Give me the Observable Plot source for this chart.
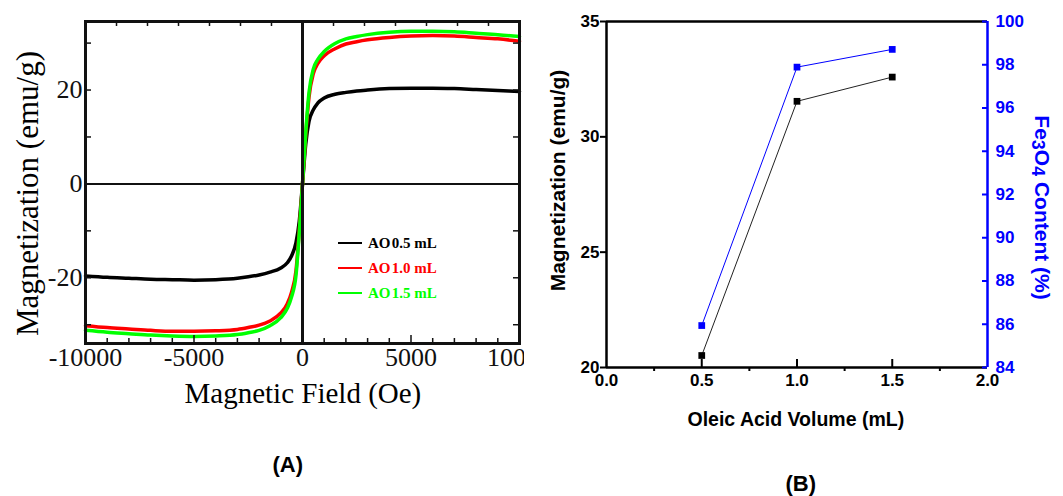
<!DOCTYPE html>
<html><head><meta charset="utf-8">
<script src="https://cdn.jsdelivr.net/npm/d3@7"></script>
<script src="https://cdn.jsdelivr.net/npm/@observablehq/plot@0.6"></script>
<style>
html,body{margin:0;padding:0;background:#fff;}
#fig{position:relative;width:1063px;height:496px;overflow:hidden;background:#fff;}
.layer{position:absolute;top:0;overflow:hidden;}
.lbl{position:absolute;white-space:nowrap;line-height:1;transform-origin:center center;}
.serif{font-family:"Liberation Serif","Times New Roman",serif;}
.sans{font-family:"Liberation Sans",Arial,sans-serif;font-weight:bold;}
.leg{position:absolute;display:flex;align-items:center;font-family:"Liberation Serif","Times New Roman",serif;font-weight:bold;font-size:15px;line-height:1;}
.leg span.sw{display:inline-block;width:24px;height:2px;margin-right:6px;}
</style></head>
<body><div id="fig"></div>
<script>
// ---------- Panel A data: M-H curves ----------
const fieldOe = [-10000,-9000,-8000,-7000,-6000,-5000,-4000,-3000,-2500,-2000,-1500,-1000,-700,-500,-300,-150,0,150,300,500,700,1000,1500,2000,2500,3000,4000,5000,6000,7000,8000,9000,10000];
const magAO05 = [-19.6,-19.9,-20.1,-20.3,-20.4,-20.5,-20.4,-20.1,-19.8,-19.4,-18.8,-17.9,-16.8,-15.3,-12.5,-8.0,0,8.5,13.3,15.8,17.2,18.3,19.1,19.5,19.8,20.0,20.3,20.4,20.4,20.3,20.1,19.9,19.7];
const magAO10 = [-30.2,-30.6,-30.9,-31.2,-31.4,-31.4,-31.3,-31.0,-30.6,-30.1,-29.2,-27.5,-25.5,-23.0,-18.5,-10.0,0,10.5,18.5,23.5,25.6,27.3,28.8,29.8,30.3,30.7,31.2,31.5,31.6,31.5,31.2,30.9,30.4];
const magAO15 = [-31.2,-31.6,-31.9,-32.2,-32.4,-32.5,-32.4,-32.1,-31.7,-31.2,-30.2,-28.5,-26.5,-24.0,-19.5,-10.5,0,11.0,19.5,24.5,26.5,28.2,29.9,30.9,31.4,31.8,32.3,32.5,32.5,32.4,32.1,31.8,31.4];
const seriesA = ["AO 0.5 mL","AO 1.0 mL","AO 1.5 mL"];
const colorsA = ["#000000","#ff0000","#00ff00"];
const xTickLabelsA = [-10000,-5000,0,5000,10000];
const xMinorTicksA = [-9000,-8000,-7000,-6000,-4000,-3000,-2000,-1000,1000,2000,3000,4000,6000,7000,8000,9000];
const xTopTicksA = [-8571,-7143,-5714,-4286,-2857,-1429,0,1429,2857,4286,5714,7143,8571];
const yTickLabelsA = [-20,0,20];
const yTicksA = [-30,-20,-10,0,10,20,30];

// ---------- Panel B data ----------
const oleicVolume = [0.5,1.0,1.5];
const magnetizationB = [20.52,31.54,32.59];
const fe3o4Content = [85.94,97.89,98.71];
const xTicksB = [0,0.5,1.0,1.5,2.0];
const xMinorTicksB = [0.25,0.75,1.25,1.75];
const yLeftTicksB = [20,25,30,35];
const yRightTicksB = [84,86,88,90,92,94,96,98,100];

const fig = document.getElementById("fig");

// ---------- Panel A ----------
const rowsA = [];
[magAO05, magAO10, magAO15].forEach((arr, i) => arr.forEach((m, j) => rowsA.push({series: seriesA[i], H: fieldOe[j], M: m})));
const WA = 524, HA = 400, mTA = 21, mBA = 57, mLA = 85, mRA = 5;
const fHA = HA - mTA - mBA, fWA = WA - mLA - mRA;
const serifFont = "Liberation Serif, Times New Roman, serif";
const plotA = Plot.plot({
  width: WA, height: HA, marginTop: mTA, marginBottom: mBA, marginLeft: mLA, marginRight: mRA,
  x: {domain: [-10000, 10000]},
  y: {domain: [-34.0, 34.6]},
  color: {domain: seriesA, range: colorsA},
  style: {fontFamily: serifFont, background: "transparent", color: "#111"},
  marks: [
    Plot.ruleY([0], {stroke: "#111", strokeWidth: 2}),
    Plot.line(rowsA, {x: "H", y: "M", z: "series", stroke: "series", strokeWidth: 3.5, curve: "monotone-x"}),
    Plot.ruleX([0], {stroke: "#111", strokeWidth: 3}),
    Plot.ruleX(xMinorTicksA, {insetTop: fHA - 5, stroke: "#111", strokeWidth: 1.5}),
    Plot.ruleX(xTickLabelsA, {insetTop: fHA - 8, stroke: "#111", strokeWidth: 1.5}),
    Plot.ruleX(xTopTicksA, {insetBottom: fHA - 5, stroke: "#111", strokeWidth: 1.5}),
    Plot.ruleY(yTicksA, {insetRight: fWA - 6, stroke: "#111", strokeWidth: 1.5}),
    Plot.ruleY(yTicksA, {insetLeft: fWA - 6, stroke: "#111", strokeWidth: 1.5}),
    Plot.frame({stroke: "#111", strokeWidth: 3}),
    Plot.axisX(xTickLabelsA, {tickSize: 0, tickPadding: 4, fontSize: 26, label: null, tickFormat: d => String(d)}),
    Plot.axisY(yTickLabelsA, {tickSize: 0, tickPadding: 3, fontSize: 26, label: null, tickFormat: d => String(d)})
  ]
});
const layerA = document.createElement("div");
layerA.className = "layer";
layerA.style.left = "0px"; layerA.style.width = WA + "px"; layerA.style.height = HA + "px";
layerA.appendChild(plotA);
fig.appendChild(layerA);

// ---------- Panel B ----------
const rowsB = oleicVolume.map((v, i) => ({vol: v, mag: magnetizationB[i], fe: fe3o4Content[i]}));
const leftB = 530, WB = 533, HB = 496, mTB = 21, mBB = 129, mLB = 76, mRB = 76;
const fHB = HB - mTB - mBB, fWB = WB - mLB - mRB;
const sansFont = "Liberation Sans, Arial, sans-serif";
const plotB1 = Plot.plot({
  width: WB, height: HB, marginTop: mTB, marginBottom: mBB, marginLeft: mLB, marginRight: mRB,
  x: {domain: [0, 2]},
  y: {domain: [20, 35]},
  style: {fontFamily: sansFont, background: "transparent", color: "#000"},
  marks: [
    Plot.line(rowsB, {x: "vol", y: "mag", stroke: "#222", strokeWidth: 1}),
    Plot.dot(rowsB, {x: "vol", y: "mag", symbol: "square", r: 3.8, fill: "#000", stroke: null}),
    Plot.ruleX(xTicksB.slice(1, -1), {insetTop: fHB - 8, stroke: "#000", strokeWidth: 2}),
    Plot.ruleX(xMinorTicksB, {insetTop: fHB, insetBottom: -4, stroke: "#000", strokeWidth: 2}),
    Plot.ruleY([35], {stroke: "#000", strokeWidth: 2.5}),
    Plot.ruleY([20], {stroke: "#000", strokeWidth: 2.5}),
    Plot.ruleX([0], {stroke: "#000", strokeWidth: 2.5}),
    Plot.axisY(yLeftTicksB, {anchor: "left", tickSize: 6, tickPadding: 1, strokeWidth: 2, fontSize: 17, fontWeight: "bold", label: null, tickFormat: d => String(d)}),
    Plot.axisX(xTicksB, {tickSize: 0, tickPadding: 6, fontSize: 17, fontWeight: "bold", label: null, tickFormat: d3.format(".1f")})
  ]
});
const plotB2 = Plot.plot({
  width: WB, height: HB, marginTop: mTB, marginBottom: mBB, marginLeft: mLB, marginRight: mRB,
  x: {domain: [0, 2], axis: null},
  y: {domain: [84, 100], axis: null},
  style: {fontFamily: sansFont, background: "transparent", color: "#0000ff"},
  marks: [
    Plot.line(rowsB, {x: "vol", y: "fe", stroke: "#0000ff", strokeWidth: 1}),
    Plot.dot(rowsB, {x: "vol", y: "fe", symbol: "square", r: 3.8, fill: "#0000ff", stroke: null}),
    Plot.ruleY(yRightTicksB, {insetLeft: fWB - 5, stroke: "#0000ff", strokeWidth: 2}),
    Plot.ruleX([2], {stroke: "#0000ff", strokeWidth: 2.5}),
    Plot.axisY(yRightTicksB, {anchor: "right", tickSize: 0, tickPadding: 8, fontSize: 17, fontWeight: "bold", color: "#0000ff", label: null, tickFormat: d => String(d)})
  ]
});
[plotB1, plotB2].forEach(p => {
  const l = document.createElement("div");
  l.className = "layer";
  l.style.left = leftB + "px"; l.style.width = WB + "px"; l.style.height = HB + "px";
  l.appendChild(p);
  fig.appendChild(l);
});

// ---------- Text labels ----------
function label(html, cx, cy, cls, size, rot, color) {
  const d = document.createElement("div");
  d.className = "lbl " + cls;
  d.innerHTML = html;
  d.style.fontSize = size + "px";
  d.style.color = color || "#000";
  fig.appendChild(d);
  const w = d.offsetWidth, h = d.offsetHeight;
  d.style.left = (cx - w / 2) + "px";
  d.style.top = (cy - h / 2) + "px";
  if (rot) d.style.transform = "rotate(" + rot + "deg)";
}
label("Magnetization (emu/g)", 27, 193, "serif", 31, -90);
label("Magnetic Field (Oe)", 303, 393, "serif", 29, 0);
label("(A)", 288, 465, "sans", 22, 0);
label("Magnetization (emu/g)", 558, 180, "sans", 21, -90);
label("Oleic Acid Volume (mL)", 796, 420, "sans", 19.5, 0);
label("Fe<sub style='font-size:0.85em;vertical-align:-0.18em'>3</sub>O<sub style='font-size:0.85em;vertical-align:-0.18em'>4</sub> Content (%)", 1040, 207, "sans", 21, 90, "#0000ff");
label("(B)", 801, 484, "sans", 22, 0);

// legend (panel A)
const legY = [243, 268, 293];
seriesA.forEach((name, i) => {
  const g = document.createElement("div");
  g.className = "leg";
  g.style.left = "338px";
  g.style.top = (legY[i] - 8) + "px";
  g.style.height = "16px";
  g.style.color = colorsA[i];
  g.innerHTML = "<span class='sw' style='background:" + colorsA[i] + "'></span>" + name.replace("AO ", "AO&#8202;");
  fig.appendChild(g);
});
</script>
</body></html>
